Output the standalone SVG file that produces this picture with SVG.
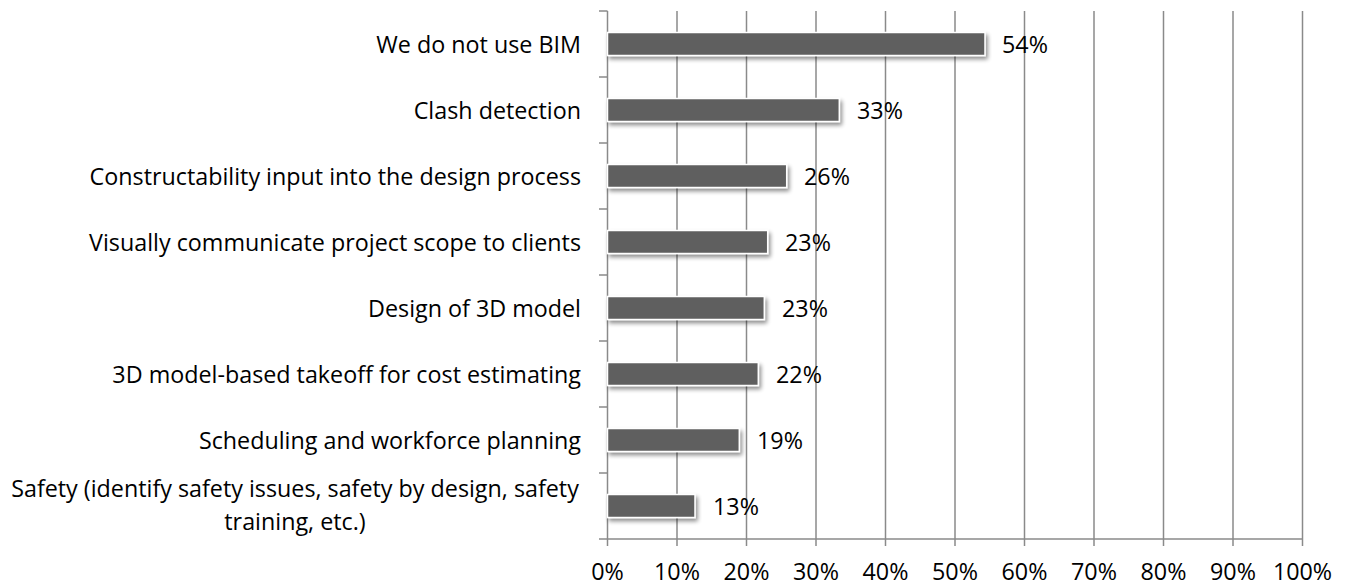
<svg xmlns="http://www.w3.org/2000/svg" width="1349" height="586" viewBox="0 0 1349 586">
<style>
.t{font-family:"Open Sans","Noto Sans","Liberation Sans",sans-serif;font-size:23.3px;fill:#000}
.cat{text-anchor:end}
.ax{text-anchor:middle}
.grid{stroke:#8a8a8a;stroke-width:1.5;fill:none}
.bar{fill:#5f5f5f;stroke:#ffffff;stroke-width:1.5;filter:url(#sh)}
</style>
<defs>
<filter id="sh" x="-5%" y="-40%" width="115%" height="200%">
<feGaussianBlur in="SourceAlpha" stdDeviation="2"/>
<feOffset dx="2" dy="3" result="b"/>
<feComponentTransfer><feFuncA type="linear" slope="0.45"/></feComponentTransfer>
<feMerge><feMergeNode/><feMergeNode in="SourceGraphic"/></feMerge>
</filter>
</defs>
<rect width="1349" height="586" fill="#ffffff"/>
<g id="gridlines" class="grid">
<path d="M677 11V546M746.5 11V546M816 11V546M885.5 11V546M955 11V546M1024.5 11V546M1094 11V546M1163.5 11V546M1233 11V546M1302.5 11V546"/>
</g>
<g id="axes" class="grid">
<path d="M607.5 11V546M599 11H607.5M599 77H607.5M599 143H607.5M599 209H607.5M599 275H607.5M599 341H607.5M599 407H607.5M599 473H607.5M599 539H607.5"/>
<path d="M607.5 539H1302.5"/>
</g>
<g id="bar-1"><rect class="bar" x="607.5" y="32.5" width="377.5" height="23"/><text class="t cat" x="581" y="52.5">We do not use BIM</text><text class="t" x="1002" y="52.5">54%</text></g>
<g id="bar-2"><rect class="bar" x="607.5" y="98.5" width="231.8" height="23"/><text class="t cat" x="581" y="118.5">Clash detection</text><text class="t" x="857" y="118.5">33%</text></g>
<g id="bar-3"><rect class="bar" x="607.5" y="164.5" width="179.2" height="23"/><text class="t cat" x="581" y="184.5">Constructability input into the design process</text><text class="t" x="804" y="184.5">26%</text></g>
<g id="bar-4"><rect class="bar" x="607.5" y="230.5" width="160.2" height="23"/><text class="t cat" x="581" y="250.5">Visually communicate project scope to clients</text><text class="t" x="785" y="250.5">23%</text></g>
<g id="bar-5"><rect class="bar" x="607.5" y="296.5" width="156.8" height="23"/><text class="t cat" x="581" y="316.5">Design of 3D model</text><text class="t" x="782" y="316.5">23%</text></g>
<g id="bar-6"><rect class="bar" x="607.5" y="362.5" width="150.8" height="23"/><text class="t cat" x="581" y="382.5">3D model-based takeoff for cost estimating</text><text class="t" x="776" y="382.5">22%</text></g>
<g id="bar-7"><rect class="bar" x="607.5" y="428.5" width="131.8" height="23"/><text class="t cat" x="581" y="448.5">Scheduling and workforce planning</text><text class="t" x="757" y="448.5">19%</text></g>
<g id="bar-8"><rect class="bar" x="607.5" y="494.5" width="87.5" height="23"/><text class="t ax" x="295" y="497">Safety (identify safety issues, safety by design, safety</text><text class="t ax" x="295" y="529.5">training, etc.)</text><text class="t" x="713" y="514.5">13%</text></g>
<g id="x-labels" class="t ax">
<text x="607.5" y="580">0%</text><text x="677" y="580">10%</text><text x="746.5" y="580">20%</text><text x="816" y="580">30%</text><text x="885.5" y="580">40%</text><text x="955" y="580">50%</text><text x="1024.5" y="580">60%</text><text x="1094" y="580">70%</text><text x="1163.5" y="580">80%</text><text x="1233" y="580">90%</text><text x="1302.5" y="580">100%</text>
</g>
</svg>
